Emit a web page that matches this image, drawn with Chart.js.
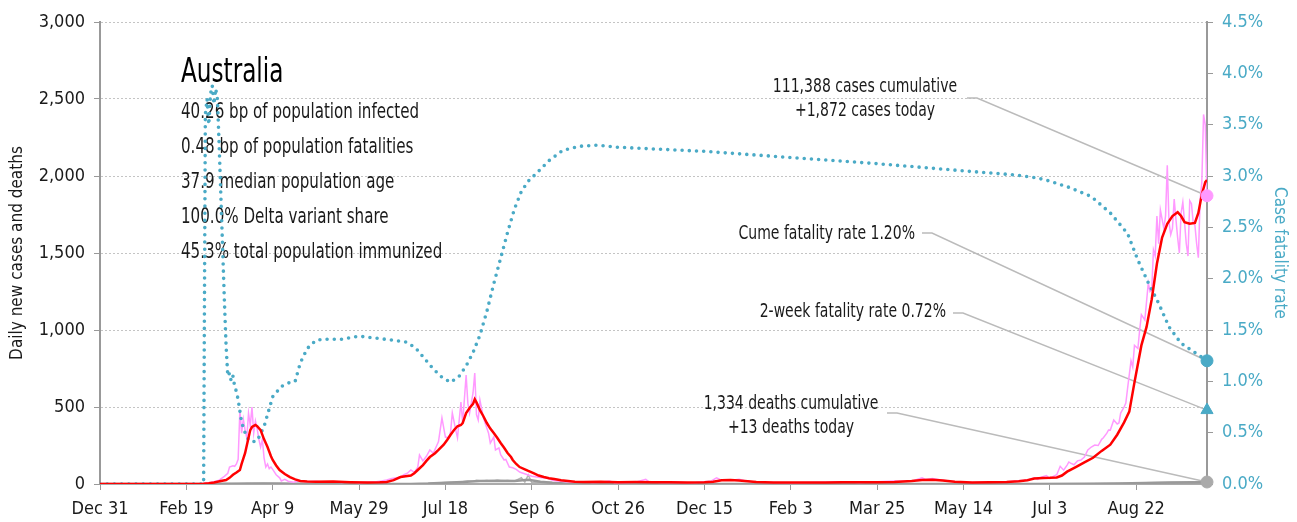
<!DOCTYPE html>
<html>
<head>
<meta charset="utf-8">
<script src="https://cdn.jsdelivr.net/npm/chart.js@4"></script>
<style>
  html, body { margin: 0; padding: 0; background: #fff; }
</style>
</head>
<body>
<canvas id="covidChart" width="1297" height="522"></canvas>
<script>
// Days are counted from Dec 31, 2019
const startDate = new Date(2019, 11, 31);
const lastDay = 641;
const monthNames = ['Jan','Feb','Mar','Apr','May','Jun','Jul','Aug','Sep','Oct','Nov','Dec'];

// Daily new cases (pink)
const caseDays = [0,20,40,55,60,63,66,69,72,74,75,77,78,79,80,81,82,83,84,85,86,87,88,89,90,91,92,93,94,95,96,97,98,99,100,102,104,105,107,109,112,115,120,125,130,135,140,145,150,155,160,163,166,169,172,174,176,178,180,182,184,185,187,189,191,193,195,196,198,200,202,203,204,206,207,209,210,212,213,214,216,217,218,219,220,222,223,225,226,228,229,231,232,234,235,237,239,241,243,245,248,250,253,256,259,262,265,270,275,280,285,290,295,298,305,310,316,318,325,335,340,345,350,354,357,359,362,366,370,374,380,390,400,410,420,430,440,450,460,470,476,478,482,488,495,505,515,525,530,535,538,541,543,545,548,550,552,554,556,558,560,561,562,564,566,568,570,572,574,576,578,580,581,583,584,585,587,589,590,591,593,594,595,597,598,599,601,602,603,605,607,608,609,610,611,612,613,614,615,616,617,618,619,620,621,622,623,624,625,626,627,628,629,630,631,632,633,634,635,636,637,638,639,640,641];
const dailyCases = [0,0,0,1,3,8,15,25,50,70,110,118,115,130,160,480,330,420,350,300,460,380,500,330,410,360,290,240,290,170,110,130,100,110,95,60,40,20,30,18,12,20,14,18,12,15,10,14,8,12,15,20,26,35,40,45,60,70,91,75,110,188,150,180,221,200,250,275,429,305,300,338,461,350,300,532,396,708,525,460,591,721,450,416,545,430,396,330,266,305,221,235,190,156,160,110,105,95,78,70,58,50,45,40,39,25,20,15,12,14,10,12,20,8,10,12,30,14,10,12,8,10,14,20,40,30,28,25,30,20,12,10,8,10,12,14,10,15,20,18,40,30,35,25,15,10,12,15,20,25,30,40,30,45,55,35,50,60,115,90,123,143,136,125,150,156,175,221,240,253,250,290,300,330,351,350,416,390,396,461,500,526,620,800,760,900,880,1000,1100,1065,1305,1250,1260,1520,1480,1740,1560,1780,1720,1660,1740,2070,1700,1620,1660,1850,1720,1600,1500,1760,1830,1700,1560,1480,1840,1820,1700,1680,1560,1470,1840,1960,2400,2330,1872];

// 7-day average of new cases (red)
const avgDays = [0,55,60,63,66,70,73,75,77,79,81,82,84,86,87,88,90,91,93,95,97,99,100,102,104,107,110,113,116,120,125,135,145,155,162,166,170,174,177,180,182,184,187,189,191,194,196,199,201,203,205,207,209,210,212,214,216,217,218,220,222,224,226,228,230,232,234,236,238,239,241,243,246,248,251,254,257,260,263,267,271,275,280,290,300,310,320,330,340,350,355,360,365,370,375,380,390,400,410,420,430,440,450,460,470,476,482,488,495,505,515,525,532,537,541,546,550,554,557,560,565,570,575,580,585,589,593,596,599,603,606,609,612,615,618,621,624,626,628,631,634,636,638,640,641];
const avgCases = [0,0,2,5,10,20,26,40,60,75,91,130,200,300,350,370,383,375,350,290,240,180,156,120,91,65,45,30,20,17,15,16,12,10,11,13,25,45,50,55,70,91,123,150,175,200,221,255,286,320,351,375,383,395,461,494,520,550,530,480,440,396,360,331,300,266,235,201,175,156,130,110,95,85,71,55,45,38,32,25,20,15,13,14,12,13,12,11,10,11,15,24,26,22,18,13,10,9,9,10,11,12,11,13,20,26,27,22,14,10,11,13,18,25,35,39,40,42,55,80,110,140,170,215,255,320,400,470,660,900,1020,1200,1430,1600,1690,1740,1765,1740,1700,1690,1695,1760,1880,1960,1974];

// Daily deaths (light grey) and 7-day average deaths (grey)
const deathDays = [0,60,62,70,80,85,90,95,100,105,110,120,130,140,160,180,185,190,195,200,205,210,213,216,218,221,224,227,230,233,236,240,244,246,248,250,253,257,260,265,270,280,300,350,400,450,500,540,560,575,585,595,605,615,625,632,638,641];
const dailyDeaths = [0,0,1,1,2,3,4,5,3,4,2,1,1,0,0,1,2,4,6,10,12,15,20,18,25,20,22,18,25,20,22,18,41,12,59,10,8,6,12,4,3,1,0,0,0,0,0,0,1,2,3,5,8,10,12,15,11,13];
const avgDeathDays = [0,60,70,90,100,120,140,180,190,200,210,220,230,240,248,255,262,270,285,300,540,570,590,605,620,641];
const avgDeaths = [0,0,1,3,3,1,0,0.5,3,8,13,19,21,20,28,15,8,4,1,0,0,1,3,7,10,12];

// Case fatality rate, percent (teal dotted, right axis)
const cfrDays = [0,59,60,61,62,63,64,65,66,67,68,69,70,71,72,73,74,75,76,77,78,79,80,82,84,86,88,91,95,100,105,110,113,116,120,125,130,140,150,160,170,178,183,188,193,198,203,208,212,216,220,224,228,232,236,240,244,248,253,260,268,278,288,300,350,400,450,500,530,543,550,561,574,585,595,601,607,613,619,626,634,641];
const cfrValues = [0,0,0,3.6,3.75,3.5,3.8,3.88,3.7,3.85,3.75,3.3,2.8,2.3,1.8,1.35,1.05,1.08,1.0,1.05,0.95,0.9,0.82,0.6,0.5,0.43,0.41,0.42,0.56,0.85,0.95,0.99,1.0,1.18,1.32,1.40,1.41,1.41,1.44,1.42,1.40,1.38,1.32,1.22,1.12,1.04,0.99,1.05,1.15,1.28,1.45,1.68,1.95,2.2,2.45,2.68,2.85,2.95,3.03,3.15,3.25,3.29,3.30,3.28,3.24,3.18,3.12,3.05,3.01,2.98,2.95,2.89,2.80,2.64,2.44,2.18,1.96,1.76,1.53,1.37,1.28,1.20];

// Latest values shown as markers on the right edge
const todayCases = 1872;
const todayDeaths = 13;
const cumeFatality = 1.20;
const twoWeekFatality = 0.72;

// Text block
const countryName = 'Australia';
const statLines = [
  '40.26 bp of population infected',
  '0.48 bp of population fatalities',
  '37.9 median population age',
  '100.0% Delta variant share',
  '45.3% total population immunized'
];

const FONT = '"DejaVu Sans Condensed", "DejaVu Sans", sans-serif';
const TEAL = '#4aaac6';
const PINK = '#ff99ff';
const TEXT = '#1a1a1a';

Chart.defaults.font.family = FONT;
Chart.defaults.color = TEXT;

function dayLabel(d) {
  const dt = new Date(startDate.getFullYear(), startDate.getMonth(), startDate.getDate() + d);
  return monthNames[dt.getMonth()] + ' ' + dt.getDate();
}

function toPoints(days, values) {
  return days.map((d, i) => ({ x: d, y: values[i] }));
}

// narrow text: squeeze glyphs horizontally to look like a condensed face
function narrowText(ctx, text, x, y, squeeze) {
  const w = ctx.measureText(text).width * squeeze;
  ctx.fillText(text, x, y, w);
}

// Draws the text block and the callout labels with their leader lines
const notesPlugin = {
  id: 'notes',
  beforeDatasetsDraw(chart) {
    const ctx = chart.ctx;
    const x = chart.scales.x;
    const yL = chart.scales.y;
    const yR = chart.scales.y1;
    ctx.save();

    // country block
    ctx.fillStyle = '#000';
    ctx.textAlign = 'left';
    ctx.textBaseline = 'alphabetic';
    ctx.font = '33px ' + FONT;
    narrowText(ctx, countryName, 181, 82, 0.78);
    ctx.fillStyle = TEXT;
    ctx.font = '21px ' + FONT;
    statLines.forEach((line, i) => {
      narrowText(ctx, line, 181, 118 + i * 35, 0.8);
    });

    // callouts
    const endX = x.getPixelForValue(lastDay);
    const callouts = [
      { lines: ['111,388 cases cumulative', '+1,872 cases today'], tx: 865, ty: 87, align: 'center', lx: 967, ly: 98, px: endX, py: yL.getPixelForValue(todayCases) },
      { lines: ['Cume fatality rate 1.20%'], tx: 915, ty: 234, align: 'right', lx: 922, ly: 233, px: endX, py: yR.getPixelForValue(cumeFatality) },
      { lines: ['2-week fatality rate 0.72%'], tx: 946, ty: 312, align: 'right', lx: 953, ly: 313, px: endX, py: yR.getPixelForValue(twoWeekFatality) },
      { lines: ['1,334 deaths cumulative', '+13 deaths today'], tx: 791, ty: 404, align: 'center', lx: 887, ly: 413, px: endX, py: yL.getPixelForValue(todayDeaths) }
    ];
    ctx.font = '19px ' + FONT;
    ctx.textBaseline = 'middle';
    callouts.forEach((c) => {
      ctx.fillStyle = TEXT;
      ctx.textAlign = c.align;
      c.lines.forEach((line, i) => narrowText(ctx, line, c.tx, c.ty + i * 24, 0.82));
      ctx.strokeStyle = '#bbbbbb';
      ctx.lineWidth = 1.5;
      ctx.beginPath();
      ctx.moveTo(c.lx, c.ly);
      ctx.lineTo(c.lx + 10, c.ly);
      ctx.lineTo(c.px, c.py);
      ctx.stroke();
    });
    ctx.restore();
  }
};

const ctx = document.getElementById('covidChart').getContext('2d');

new Chart(ctx, {
  type: 'line',
  data: {
    datasets: [
      {
        type: 'scatter',
        data: [{ x: lastDay, y: todayCases }],
        yAxisID: 'y',
        clip: false,
        pointStyle: 'circle', pointRadius: 6,
        backgroundColor: PINK, borderColor: PINK
      },
      {
        type: 'scatter',
        data: [{ x: lastDay, y: todayDeaths }],
        yAxisID: 'y',
        clip: false,
        pointStyle: 'circle', pointRadius: 6,
        backgroundColor: '#aaaaaa', borderColor: '#aaaaaa'
      },
      {
        type: 'scatter',
        data: [{ x: lastDay, y: cumeFatality }],
        yAxisID: 'y1',
        clip: false,
        pointStyle: 'circle', pointRadius: 6,
        backgroundColor: TEAL, borderColor: TEAL
      },
      {
        type: 'scatter',
        data: [{ x: lastDay, y: twoWeekFatality }],
        yAxisID: 'y1',
        clip: false,
        pointStyle: 'triangle', pointRadius: 7,
        backgroundColor: TEAL, borderColor: TEAL
      },
      {
        label: 'Cases 7-day average',
        data: toPoints(avgDays, avgCases),
        yAxisID: 'y',
        borderColor: '#ff0000',
        borderWidth: 2.5,
        pointRadius: 0
      },
      {
        label: 'Case fatality rate',
        data: toPoints(cfrDays, cfrValues),
        yAxisID: 'y1',
        borderColor: TEAL,
        borderWidth: 3.6,
        borderDash: [0, 7.2],
        borderCapStyle: 'round',
        pointRadius: 0
      },
      {
        label: 'Daily cases',
        data: toPoints(caseDays, dailyCases),
        yAxisID: 'y',
        borderColor: PINK,
        borderWidth: 1.5,
        pointRadius: 0
      },
      {
        label: 'Deaths 7-day average',
        data: toPoints(avgDeathDays, avgDeaths),
        yAxisID: 'y',
        borderColor: '#999999',
        borderWidth: 2.5,
        pointRadius: 0
      },
      {
        label: 'Daily deaths',
        data: toPoints(deathDays, dailyDeaths),
        yAxisID: 'y',
        borderColor: '#b5b5b5',
        borderWidth: 1.5,
        pointRadius: 0
      }
    ]
  },
  options: {
    responsive: false,
    animation: false,
    devicePixelRatio: 1,
    layout: { padding: { top: 22, left: 0, right: 0, bottom: 0 } },
    plugins: {
      legend: { display: false },
      tooltip: { enabled: false }
    },
    elements: { line: { tension: 0 } },
    scales: {
      x: {
        type: 'linear',
        min: 0,
        max: lastDay,
        afterFit: (scale) => { scale.height = 38; },
        border: { display: true, color: '#aaaaaa', width: 2 },
        grid: { drawOnChartArea: false, drawTicks: true, tickLength: 6, color: '#999999', tickColor: '#999999' },
        ticks: {
          stepSize: 50,
          includeBounds: false,
          maxRotation: 0,
          padding: 9,
          color: TEXT,
          font: { size: 18 },
          callback: (v) => dayLabel(v)
        }
      },
      y: {
        position: 'left',
        min: 0,
        max: 3000,
        afterFit: (scale) => { scale.width = 100; },
        border: { display: true, color: '#999999', width: 2, dash: [2, 2] },
        grid: { color: '#c4c4c4', lineWidth: 1, tickLength: 6, tickColor: '#999999' },
        ticks: {
          stepSize: 500,
          padding: 9,
          color: TEXT,
          font: { size: 18 },
          callback: (v) => v.toLocaleString('en-US')
        },
        title: {
          display: true,
          text: 'Daily new cases and deaths',
          color: TEXT,
          font: { size: 17 },
          padding: { top: 7, bottom: 0 }
        }
      },
      y1: {
        position: 'right',
        min: 0,
        max: 4.5,
        afterFit: (scale) => { scale.width = 90; },
        border: { display: true, color: '#999999', width: 2 },
        grid: { drawOnChartArea: false, drawTicks: true, tickLength: 6, tickColor: '#999999' },
        ticks: {
          stepSize: 0.5,
          padding: 9,
          color: TEAL,
          font: { size: 18 },
          callback: (v) => v.toFixed(1) + '%'
        },
        title: {
          display: true,
          text: 'Case fatality rate',
          color: TEAL,
          font: { size: 17 },
          padding: { top: 7, bottom: 0 }
        }
      }
    }
  },
  plugins: [notesPlugin]
});
</script>
</body>
</html>
